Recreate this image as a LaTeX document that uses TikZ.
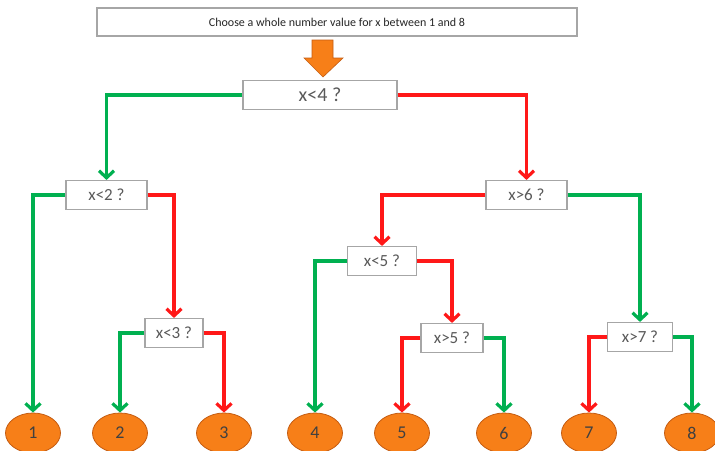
\documentclass[tikz,border=0pt]{standalone}
\usepackage{fontspec}
\setmainfont{Carlito}
\usetikzlibrary{arrows.meta,shapes.geometric}

\definecolor{yesgreen}{RGB}{0,176,80}
\definecolor{nored}{RGB}{255,24,24}
\definecolor{leaforange}{RGB}{247,127,24}
\definecolor{leafedge}{RGB}{196,92,18}
\definecolor{boxgrey}{RGB}{166,166,166}
\definecolor{textgrey}{RGB}{89,89,89}

\begin{document}
\begin{tikzpicture}[x=1pt, y=-1pt,
    test/.style = {draw=boxgrey, line width=1.1pt, fill=white, inner sep=0pt,
                   minimum height=29pt, text=textgrey, font=\fontsize{17}{17}\selectfont},
    leaf/.style = {draw=leafedge, ellipse, fill=leaforange, line width=0.8pt, inner sep=0pt,
                   minimum width=55pt, minimum height=40pt, text={rgb,255:red,64;green,64;blue,64},
                   font=\fontsize{18}{18}\selectfont},
    yes/.style = {draw=yesgreen, line width=3.2pt, -{Straight Barb[length=7pt,width=15pt]}},
    no/.style = {draw=nored, line width=3.2pt, -{Straight Barb[length=7pt,width=15pt]}}]
    \useasboundingbox (0,0) rectangle (715,450);
    \clip (0,0) rectangle (715,450);

    \node[test, minimum width=480pt, minimum height=28pt, text=black!85,
          font=\fontsize{12}{12}\selectfont] (start) at (337,22) {Choose a whole number value for x between 1 and 8};
    \filldraw[fill=leaforange, draw=leafedge, line width=0.6pt]
        (312,40) -- (333,40) -- (333,58) -- (343,58) -- (323,77) -- (304,58) -- (312,58) -- cycle;

    \node[test, minimum width=154pt, font=\fontsize{20}{20}\selectfont] (lt4) at (320,95) {x<4 ?};
    \node[test, minimum width=81pt] (lt2) at (106.5,195) {x<2 ?};
    \node[test, minimum width=81pt] (gt6) at (526.5,195) {x>6 ?};
    \node[test, minimum width=58pt] (lt3) at (174,333) {x<3 ?};
    \node[test, minimum width=69pt] (lt5) at (382,261) {x<5 ?};
    \node[test, minimum width=62pt] (gt5) at (452,338) {x>5 ?};
    \node[test, minimum width=65pt] (gt7) at (640,337) {x>7 ?};

    \node[leaf] (1) at (33,433) {1};
    \node[leaf] (2) at (120,433) {2};
    \node[leaf] (3) at (224,433) {3};
    \node[leaf] (4) at (315,433) {4};
    \node[leaf] (5) at (402,433) {5};
    \node[leaf] (6) at (504,433) {6};
    \node[leaf] (7) at (589,433) {7};
    \node[leaf] (8) at (692,433) {8};

    \draw[yes] (lt4) -| (lt2);
    \draw[no] (lt4) -| (gt6);
    \draw[yes] (lt2) -| (1);
    \draw[no] (lt2) -| (lt3);
    \draw[yes] (lt3) -| (2);
    \draw[no] (lt3) -| (3);
    \draw[no] (gt6) -| (lt5);
    \draw[yes] (gt6) -| (gt7);
    \draw[yes] (lt5) -| (4);
    \draw[no] (lt5) -| (gt5);
    \draw[no] (gt5) -| (5);
    \draw[yes] (gt5) -| (6);
    \draw[no] (gt7) -| (7);
    \draw[yes] (gt7) -| (8);
\end{tikzpicture}
\end{document}
